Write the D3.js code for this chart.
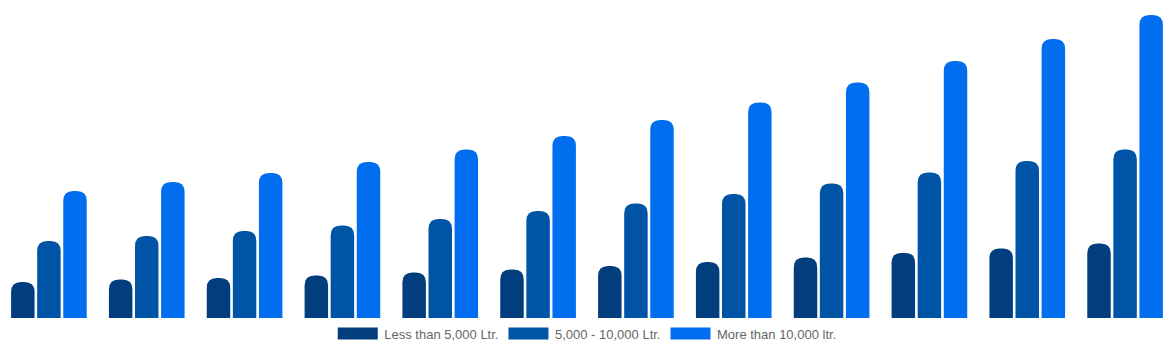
<!DOCTYPE html>
<html>
<head>
    <meta charset="utf-8">
    <style>
        body {
            margin: 0;
            background: #fff;
        }
        svg {
            display: block;
        }
        .legend text {
            font-family: Arial, 'Liberation Sans', sans-serif;
            font-size: 13px;
            fill: #666;
        }
    </style>
</head>
<body>
    <svg width="1174" height="350"></svg>

<script src="https://d3js.org/d3.v7.min.js"></script>
<script>
    // data (axes are hidden, so units are relative)
    let categories = ["Jan", "Feb", "Mar", "Apr", "May", "Jun", "Jul", "Aug", "Sep", "Oct", "Nov", "Dec"];
    let seriesNames = ["Less than 5,000 Ltr.", "5,000 - 10,000 Ltr.", "More than 10,000 ltr."];
    let seriesColors = ["#023e7d", "#0054a6", "#006eee"];

    let lessThan5k = [36, 38.5, 40, 42.5, 45.5, 48.5, 52, 56, 60.5, 65, 69.5, 74.5];
    let from5kTo10k = [77, 82, 87, 92.5, 99, 107, 114.5, 124, 134.5, 145.5, 157, 168.5];
    let moreThan10k = [127, 136, 145, 156, 168.5, 182, 198, 215.5, 235.5, 257, 279, 303];

    let yMax = 318;

    let width = 1174;
    let plotBottom = 318;
    let plotTop = 0;

    let seriesValues = [lessThan5k, from5kTo10k, moreThan10k];

    let svg = d3.select("svg");

    let x0 = d3.scaleBand()
        .domain(categories)
        .range([0, width])
        .paddingInner(0.2)
        .paddingOuter(0.1);

    let x1 = d3.scaleBand()
        .domain(d3.range(seriesNames.length))
        .range([0, x0.bandwidth()])
        .paddingInner(0.1)
        .paddingOuter(0.05);

    let y = d3.scaleLinear()
        .domain([0, yMax])
        .range([plotBottom, plotTop]);

    // rect with only the top corners rounded
    function topRounded(x, yTop, w, h, r) {
        r = Math.min(r, w / 2, h);
        return `M${x},${yTop + h}` +
            `V${yTop + r}` +
            `Q${x},${yTop} ${x + r},${yTop}` +
            `H${x + w - r}` +
            `Q${x + w},${yTop} ${x + w},${yTop + r}` +
            `V${yTop + h}Z`;
    }

    let rows = categories.map((c, i) => ({
        cat: c,
        vals: seriesValues.map(s => s[i])
    }));

    let groups = svg.append("g")
        .selectAll("g")
        .data(rows)
        .join("g")
        .attr("transform", d => `translate(${x0(d.cat)},0)`);

    groups.selectAll("path")
        .data(d => d.vals.map((v, k) => ({ k: k, v: v })))
        .join("path")
        .attr("d", d => {
            let top = y(d.v);
            return topRounded(x1(d.k), top, x1.bandwidth(), y(0) - top, 10);
        })
        .style("fill", d => seriesColors[d.k]);

    // legend, centred under the plot
    let legend = svg.append("g").attr("class", "legend");
    let boxW = 40, boxH = 12, gap = 10;
    let items = legend.selectAll("g")
        .data(seriesNames)
        .join("g");

    items.append("rect")
        .attr("width", boxW)
        .attr("height", boxH)
        .attr("y", 327.5)
        .style("fill", (d, i) => seriesColors[i]);

    items.append("text")
        .attr("x", boxW + 6.5)
        .attr("y", 334)
        .attr("dy", "0.35em")
        .text(d => d);

    let offsets = [];
    let total = 0;
    items.each(function () {
        let tw = d3.select(this).select("text").node().getComputedTextLength();
        offsets.push(total);
        total += boxW + 6.5 + tw + gap;
    });
    total -= gap;
    let startX = (width - total) / 2;
    items.attr("transform", (d, i) => `translate(${startX + offsets[i]},0)`);
</script>
</body>
</html>
